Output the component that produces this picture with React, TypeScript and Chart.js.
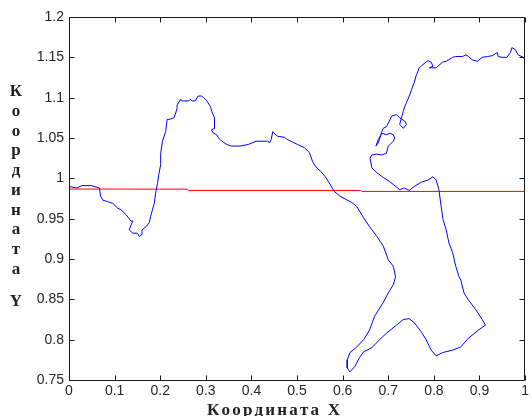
import { useEffect, useRef } from 'react';
import { Chart, registerables } from 'chart.js';

Chart.register(...registerables);

const xTickValues = [0, 0.1, 0.2, 0.3, 0.4, 0.5, 0.6, 0.7, 0.8, 0.9, 1];
const xTickLabels = ['0', '0.1', '0.2', '0.3', '0.4', '0.5', '0.6', '0.7', '0.8', '0.9', '1'];
const yTickValues = [0.75, 0.8, 0.85, 0.9, 0.95, 1, 1.05, 1.1, 1.15, 1.2];
const yTickLabels = ['0.75', '0.8', '0.85', '0.9', '0.95', '1', '1.05', '1.1', '1.15', '1.2'];
const xAxisTitle = 'Координата X';
const yAxisTitle = 'Координата Y';

const redX = [0, 0.26, 0.262, 0.64, 0.642, 1];
const redY = [0.9867, 0.9866, 0.985, 0.985, 0.9838, 0.9838];

const blueX = [
  0, 0.017, 0.028, 0.049, 0.067, 0.069, 0.074, 0.085, 0.096, 0.107,
  0.114, 0.125, 0.136, 0.14, 0.136, 0.132, 0.14, 0.15, 0.154, 0.158,
  0.16, 0.169, 0.176, 0.179, 0.183, 0.187, 0.19, 0.194, 0.197, 0.201,
  0.201, 0.205, 0.212, 0.215, 0.219, 0.23, 0.234, 0.237, 0.237, 0.245,
  0.248, 0.263, 0.266, 0.27, 0.277, 0.283, 0.291, 0.295, 0.302, 0.31,
  0.313, 0.319, 0.319, 0.312, 0.317, 0.324, 0.328, 0.335, 0.346, 0.356,
  0.375, 0.393, 0.41, 0.436, 0.44, 0.443, 0.447, 0.451, 0.458, 0.472,
  0.479, 0.49, 0.501, 0.516, 0.527, 0.534, 0.54, 0.551, 0.562, 0.573,
  0.581, 0.594, 0.61, 0.62, 0.631, 0.646, 0.659, 0.675, 0.689, 0.7,
  0.711, 0.716, 0.714, 0.711, 0.7, 0.689, 0.67, 0.659, 0.646, 0.631,
  0.616, 0.61, 0.61, 0.616, 0.627, 0.636, 0.646, 0.664, 0.681, 0.696,
  0.718, 0.733, 0.746, 0.757, 0.772, 0.783, 0.794, 0.805, 0.819, 0.841,
  0.859, 0.876, 0.898, 0.913, 0.906, 0.892, 0.876, 0.866, 0.859, 0.855,
  0.848, 0.841, 0.833, 0.827, 0.82, 0.816, 0.811, 0.805, 0.798, 0.787,
  0.772, 0.757, 0.746, 0.735, 0.725, 0.703, 0.689, 0.675, 0.664, 0.66,
  0.664, 0.675, 0.686, 0.696, 0.7, 0.704, 0.711, 0.714, 0.711, 0.704,
  0.696, 0.686, 0.682, 0.678, 0.673, 0.678, 0.686, 0.689, 0.696, 0.704,
  0.707, 0.718, 0.725, 0.736, 0.74, 0.733, 0.725, 0.728, 0.733, 0.736,
  0.74, 0.746, 0.751, 0.757, 0.761, 0.768, 0.776, 0.787, 0.794, 0.798,
  0.79, 0.805, 0.819, 0.827, 0.841, 0.848, 0.863, 0.87, 0.876, 0.884,
  0.895, 0.906, 0.917, 0.928, 0.939, 0.941, 0.949, 0.96, 0.968, 0.971,
  0.978, 0.985, 0.996, 1.0,
];

const blueY = [
  0.99, 0.988, 0.991, 0.991, 0.988, 0.978, 0.973, 0.971, 0.969, 0.963,
  0.961, 0.955, 0.947, 0.947, 0.942, 0.936, 0.932, 0.932, 0.928, 0.93,
  0.936, 0.94, 0.945, 0.953, 0.961, 0.969, 0.982, 0.994, 1.005, 1.017,
  1.031, 1.046, 1.058, 1.073, 1.073, 1.075, 1.081, 1.087, 1.091, 1.098,
  1.096, 1.096, 1.098, 1.096, 1.096, 1.102, 1.102, 1.1, 1.096, 1.089,
  1.083, 1.075, 1.062, 1.06, 1.056, 1.054, 1.05, 1.046, 1.042, 1.04,
  1.04, 1.042, 1.046, 1.046, 1.044, 1.048, 1.058, 1.055, 1.052, 1.051,
  1.048, 1.045, 1.042, 1.038, 1.032, 1.021, 1.015, 1.009, 1.002, 0.992,
  0.984, 0.978, 0.973, 0.97, 0.965, 0.951, 0.94, 0.928, 0.916, 0.899,
  0.891, 0.878, 0.874, 0.868, 0.858, 0.846, 0.829, 0.812, 0.8, 0.791,
  0.784, 0.775, 0.765, 0.76, 0.767, 0.777, 0.785, 0.79, 0.8, 0.808,
  0.818, 0.825, 0.826, 0.821, 0.81, 0.8, 0.787, 0.78, 0.784, 0.787,
  0.791, 0.802, 0.812, 0.818, 0.825, 0.837, 0.849, 0.858, 0.874, 0.878,
  0.891, 0.908, 0.92, 0.936, 0.949, 0.965, 0.986, 0.998, 1.002, 0.998,
  0.995, 0.99, 0.985, 0.988, 0.986, 0.996, 1.001, 1.007, 1.013, 1.025,
  1.029, 1.03, 1.029, 1.031, 1.04, 1.042, 1.046, 1.05, 1.054, 1.056,
  1.054, 1.056, 1.052, 1.048, 1.04, 1.044, 1.058, 1.062, 1.064, 1.073,
  1.077, 1.079, 1.075, 1.071, 1.067, 1.062, 1.067, 1.073, 1.083, 1.089,
  1.094, 1.102, 1.11, 1.119, 1.127, 1.137, 1.141, 1.146, 1.144, 1.139,
  1.137, 1.137, 1.144, 1.145, 1.15, 1.151, 1.151, 1.153, 1.151, 1.147,
  1.145, 1.15, 1.151, 1.152, 1.156, 1.151, 1.15, 1.15, 1.156, 1.162,
  1.16, 1.153, 1.15, 1.147,
];

const framePlugin = {
  id: 'matlabFrame',
  afterDraw(chart: any) {
    const { ctx, chartArea: a, scales } = chart;
    const xs = scales.x;
    const ys = scales.y;
    ctx.save();
    ctx.strokeStyle = '#1a1a1a';
    ctx.lineWidth = 1;
    const L = Math.round(a.left) + 0.5;
    const R = Math.round(a.right) - 0.5;
    const T = Math.round(a.top) + 0.5;
    const B = Math.round(a.bottom) + 0.5;
    ctx.beginPath();
    ctx.rect(L, T, R - L, B - T);
    const tl = 5;
    xTickValues.forEach((v) => {
      const px = Math.round(xs.getPixelForValue(v)) + 0.5;
      ctx.moveTo(px, B);
      ctx.lineTo(px, B - tl);
      ctx.moveTo(px, T);
      ctx.lineTo(px, T + tl);
    });
    yTickValues.forEach((v) => {
      const py = Math.round(ys.getPixelForValue(v)) + 0.5;
      ctx.moveTo(L, py);
      ctx.lineTo(L + tl, py);
      ctx.moveTo(R, py);
      ctx.lineTo(R - tl, py);
    });
    ctx.stroke();

    // Y axis title: stacked letters
    ctx.fillStyle = '#222';
    ctx.font = 'bold 17px "Liberation Serif"';
    ctx.textAlign = 'center';
    ctx.textBaseline = 'alphabetic';
    let by = 96;
    const chars = Array.from(yAxisTitle);
    chars.forEach((ch, i) => {
      if (i > 0) by += ch === ' ' ? 12.5 : chars[i - 1] === ' ' ? 19.75 : 19.75;
      if (ch !== ' ') ctx.fillText(ch, 16, by);
    });

    // X axis title with spread letters
    ctx.textAlign = 'left';
    const xc = Array.from(xAxisTitle);
    const widths = xc.map((c) => ctx.measureText(c).width);
    const total = widths.reduce((s, w) => s + w, 0);
    const targetW = 133;
    const gap = (targetW - total) / (xc.length - 1);
    let cx = 207;
    xc.forEach((c, i) => {
      ctx.fillText(c, cx, 415);
      cx += widths[i] + gap;
    });
    ctx.restore();
  },
};

export default function App() {
  const ref = useRef<HTMLCanvasElement | null>(null);

  useEffect(() => {
    const canvas = ref.current;
    if (!canvas) return;
    const tickFont = { family: '"Liberation Sans", Arial, sans-serif', size: 14 };
    const chart = new Chart(canvas, {
      type: 'scatter',
      data: {
        datasets: [
          {
            data: blueX.map((x, i) => ({ x, y: blueY[i] })),
            showLine: true,
            borderColor: '#0000ff',
            borderWidth: 1,
            pointRadius: 0,
            tension: 0,
          },
          {
            data: redX.map((x, i) => ({ x, y: redY[i] })),
            showLine: true,
            borderColor: '#ff0000',
            borderWidth: 1,
            pointRadius: 0,
            tension: 0,
          },
        ],
      },
      options: {
        responsive: false,
        animation: false,
        events: [],
        layout: { padding: { top: 17, right: 2, left: 0, bottom: 0 }, autoPadding: false },
        plugins: { legend: { display: false }, tooltip: { enabled: false } },
        scales: {
          x: {
            type: 'linear',
            min: 0,
            max: 1,
            grid: { display: false, drawTicks: false },
            border: { display: false },
            afterBuildTicks: (s: any) => {
              s.ticks = xTickValues.map((v) => ({ value: v }));
            },
            afterFit: (s: any) => {
              s.height = 36;
            },
            ticks: {
              autoSkip: false,
              maxRotation: 0,
              padding: 3,
              color: '#262626',
              font: tickFont,
              callback: (_v: any, i: number) => xTickLabels[i],
            },
          },
          y: {
            type: 'linear',
            min: 0.75,
            max: 1.2,
            grid: { display: false, drawTicks: false },
            border: { display: false },
            afterBuildTicks: (s: any) => {
              s.ticks = yTickValues.map((v) => ({ value: v }));
            },
            afterFit: (s: any) => {
              s.width = 69;
            },
            ticks: {
              autoSkip: false,
              padding: 5,
              color: '#262626',
              font: tickFont,
              callback: (_v: any, i: number) => yTickLabels[i],
            },
          },
        },
      },
      plugins: [framePlugin],
    } as any);
    return () => chart.destroy();
  }, []);

  return (
    <div style={{ position: 'fixed', left: 0, top: 0, width: 532, height: 416, background: '#fff' }}>
      <canvas ref={ref} width={532} height={416} style={{ display: 'block', width: 532, height: 416 }} />
    </div>
  );
}
